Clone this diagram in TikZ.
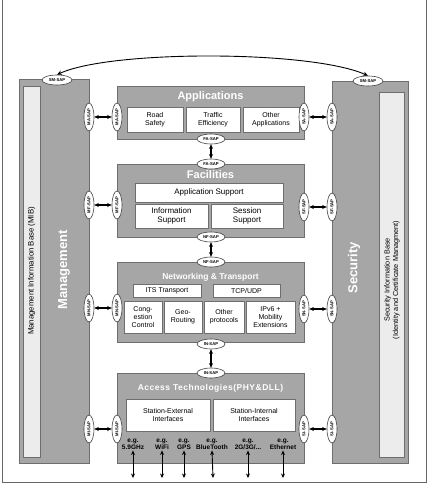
\documentclass[tikz,border=0pt]{standalone}
\usepackage{fontspec}
\setmainfont{Liberation Sans}
\usetikzlibrary{shapes.geometric,arrows.meta}
\definecolor{boxgray}{HTML}{A6A6A6}
\definecolor{boxedge}{HTML}{6E6E6E}
\definecolor{lightbox}{HTML}{ECECEC}
\tikzset{
  layer/.style={draw=boxedge,fill=boxgray,line width=0.8pt,minimum width=187pt,inner sep=0pt},
  column/.style={draw=boxedge,fill=boxgray,line width=0.8pt,inner sep=0pt},
  basebox/.style={draw=boxedge,fill=lightbox,line width=0.7pt,inner sep=0pt},
  subbox/.style={draw=boxedge,fill=white,line width=0.7pt,inner sep=0pt,align=center,font=\fontsize{7}{8}\selectfont},
  title/.style={text=white,font=\bfseries\fontsize{11}{12}\selectfont,inner sep=0pt},
  sap/.style={ellipse,draw=black!75,fill=white,line width=0.6pt,minimum width=28pt,minimum height=10pt,inner sep=0pt,font=\bfseries\fontsize{4.2}{4.5}\selectfont},
  vsap/.style={sap,rotate=90},
  link/.style={{Stealth[length=4.5pt,width=4pt]}-{Stealth[length=4.5pt,width=4pt]},line width=1.1pt},
  eg/.style={align=center,font=\bfseries\fontsize{6.5}{7}\selectfont,inner sep=0pt},
}
\begin{document}
\begin{tikzpicture}[x=1pt,y=-1pt]
\useasboundingbox (0,0) rectangle (428,486);
\fill[white] (0,0) rectangle (428,486);
\draw[black!60,line width=0.8pt] (2,0) -- (2,482) -- (426,482) -- (426,0);

% columns
\node[column,minimum width=70pt,minimum height=384pt] (mgmt) at (54,271) {};
\node[basebox,minimum width=17pt,minimum height=371pt] (mib) at (31.5,271.5) {};
\node[rotate=90,font=\fontsize{7.8}{8}\selectfont,inner sep=0pt] (mibtext) at (31.5,271) {Management Information Base (MIB)};
\node[rotate=90,text=white,font=\bfseries\fontsize{13}{14}\selectfont,inner sep=0pt] (mgmttext) at (64,270) {Management};

\node[column,minimum width=76pt,minimum height=382pt] (sec) at (370,272) {};
\node[basebox,minimum width=25pt,minimum height=365pt] (sib) at (391.5,274.5) {};
\node[rotate=90,align=center,font=\fontsize{7.3}{8.5}\selectfont,inner sep=0pt] (sibtext) at (392,280) {Security Information Base\\(Identity and Certificate Managment)};
\node[rotate=90,text=white,font=\bfseries\fontsize{13}{14}\selectfont,inner sep=0pt] (sectext) at (354,268) {Security};

% layers
\node[layer,minimum height=53pt] (app) at (210.5,112.5) {};
\node[layer,minimum height=73pt] (fac) at (210.5,200.5) {};
\node[layer,minimum height=80pt] (net) at (210.5,302) {};
\node[layer,minimum height=90pt] (acc) at (210.5,418) {};

% applications
\node[title] (apptitle) at (210.5,97) {Applications};
\node[subbox,minimum width=56pt,minimum height=25pt] (road) at (155,119.5) {Road\\Safety};
\node[subbox,minimum width=54pt,minimum height=25pt] (traffic) at (213,119.5) {Traffic\\Efficiency};
\node[subbox,minimum width=56pt,minimum height=25pt] (otherapp) at (271,119.5) {Other\\Applications};

% facilities
\node[title] (factitle) at (210.5,175) {Facilities};
\node[subbox,minimum width=148pt,minimum height=19pt,font=\fontsize{8}{9}\selectfont] (appsup) at (209,192.5) {Application Support};
\node[subbox,minimum width=73pt,minimum height=24pt,font=\fontsize{8}{9}\selectfont] (infosup) at (171.5,216) {Information\\Support};
\node[subbox,minimum width=72pt,minimum height=24pt,font=\fontsize{8}{9}\selectfont] (sesssup) at (247,216) {Session\\Support};

% networking
\node[title,font=\bfseries\fontsize{8.5}{9}\selectfont] (nettitle) at (210.5,277) {Networking \& Transport};
\node[subbox,minimum width=68pt,minimum height=13pt] (itst) at (167,290.5) {ITS Transport};
\node[subbox,minimum width=67pt,minimum height=13pt] (tcp) at (246.5,290.5) {TCP/UDP};
\node[subbox,minimum width=38pt,minimum height=32pt] (cong) at (143,317) {Cong-\\estion\\Control};
\node[subbox,minimum width=38pt,minimum height=32pt] (geo) at (183,317) {Geo-\\Routing};
\node[subbox,minimum width=40pt,minimum height=32pt] (otherp) at (224,317) {Other\\protocols};
\node[subbox,minimum width=49pt,minimum height=32pt] (ipv6) at (270.5,317) {IPv6 +\\Mobility\\Extensions};

% access
\node[title,font=\bfseries\fontsize{8.5}{9}\selectfont] (acctitle) at (210.5,388) {\addfontfeature{LetterSpace=6}Access Technologies(PHY\&DLL)};
\node[subbox,minimum width=84pt,minimum height=32pt] (sext) at (168,415) {Station-External\\Interfaces};
\node[subbox,minimum width=82pt,minimum height=32pt] (sint) at (254,415) {Station-Internal\\Interfaces};

\node[eg] (e1) at (133,444) {e.g.\\5.9GHz};
\node[eg] (e2) at (162,444) {e.g.\\WiFi};
\node[eg] (e3) at (184,444) {e.g.\\GPS};
\node[eg] (e4) at (212,444) {e.g.\\BlueTooth};
\node[eg] (e5) at (248,444) {e.g.\\2G/3G/...};
\node[eg] (e6) at (283,444) {e.g.\\Ethernet};
\foreach \i/\x in {1/133,2/162,3/184,4/213,5/248,6/283}{
  \coordinate (d\i) at (\x,478);
  \draw[link,line width=0.9pt] ([yshift=-1pt]e\i.south) -- (d\i);
}

% vertical SAPs between layers
\node[sap] (faA) at (211,139) {FA-SAP};
\node[sap] (faF) at (211,164) {FA-SAP};
\node[sap] (nfF) at (211,237) {NF-SAP};
\node[sap] (nfN) at (211,262) {NF-SAP};
\node[sap] (inN) at (211,344) {IN-SAP};
\node[sap] (inA) at (211,373) {IN-SAP};
\draw[link] (faA) -- (faF);
\draw[link] (nfF) -- (nfN);
\draw[link] (inN) -- (inA);

% management SAPs
\foreach \n/\y/\lab in {a/117/MA-SAP,f/205/MF-SAP,n/308/MN-SAP,i/429/MI-SAP}{
  \node[vsap] (m\n L) at (89,\y) {\lab};
  \node[vsap] (m\n R) at (117,\y) {\lab};
  \draw[link] (m\n L) -- (m\n R);
}
% security SAPs
\foreach \n/\y/\lab in {a/117/SA-SAP,f/207/SF-SAP,n/309/SN-SAP,i/429/SI-SAP}{
  \node[vsap] (s\n L) at (304,\y) {\lab};
  \node[vsap] (s\n R) at (332,\y) {\lab};
  \draw[link] (s\n L) -- (s\n R);
}

% SM-SAP
\node[sap,minimum width=30pt,minimum height=10pt] (smL) at (57,80) {SM-SAP};
\node[sap,minimum width=30pt,minimum height=10pt] (smR) at (368,81) {SM-SAP};
\draw[{Stealth[length=5pt,width=4.5pt]}-{Stealth[length=5pt,width=4.5pt]},line width=0.9pt] (smL.north) .. controls (110,50) and (310,50) .. (smR.north);
\end{tikzpicture}
\end{document}
